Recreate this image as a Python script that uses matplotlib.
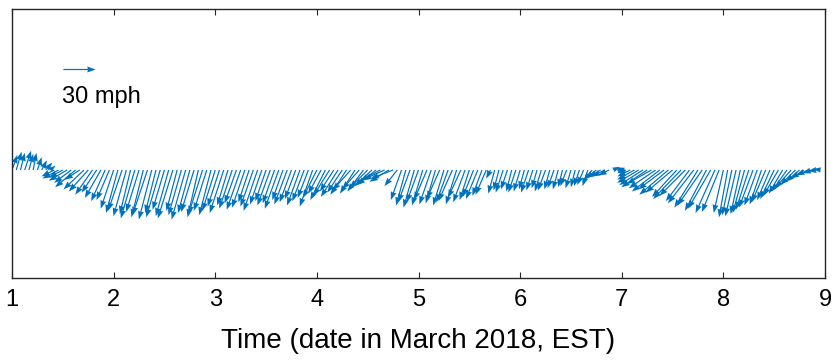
import numpy as np
import matplotlib
matplotlib.use("Agg")
import matplotlib.pyplot as plt

plt.rcParams['font.family'] = ['Liberation Sans', 'DejaVu Sans']

# Hourly wind vectors, 1-9 March 2018 (mph); east and north components
east = [
    5, 5, 4, 6, 4, 3, 4, 5, 6, 5, -12, -15, -13, -17, -16, -19, -14, -19, -18, -16, -14, -15, -13, -12,
    -12, -11, -13, -12, -10, -13, -12, -11, -14, -12, -10, -13, -11, -12, -14, -10, -12, -13, -11, -12, -10, -13, -12, -11,
    -12, -11, -13, -10, -12, -11, -13, -12, -10, -12, -13, -11, -10, -12, -11, -13, -10, -12, -11, -10, -12, -11, -10, -12,
    -13, -12, -14, -15, -13, -16, -14, -15, -17, -14, -16, -15, -17, -16, -18, -19, -20, -18, -21, -12, -10, -9, -11, -10,
    -11, -10, -12, -11, -9, -12, -10, -11, -13, -10, -12, -11, -9, -10, -11, -9, -10, -4, -6, -5, -7, -6, -5, -7,
    -6, -5, -7, -6, -5, -6, -7, -5, -6, -5, -4, -6, -5, -4, -5, -6, -5, -8, -10, -11, -12, -10, 6, 7,
    -5, -8, -12, -16, -20, -22, -24, -23, -25, -26, -24, -27, -25, -23, -26, -24, -22, -24, -22, -23, -20, -21, -18, -16,
    -9, -8, -9, -10, -9, -11, -12, -13, -12, -11, -13, -12, -13, -14, -13, -14, -15, -14, -13, -12, -11, -9, -8, -7,
]
north = [
    14, 17, 16, 18, 15, 16, 12, 9, 7, 4, -6, -8, -7, -10, -12, -16, -9, -18, -20, -23, -21, -26, -29, -28,
    -36, -40, -38, -43, -41, -45, -39, -44, -42, -46, -40, -44, -37, -43, -45, -38, -42, -46, -40, -39, -44, -41, -38, -42,
    -38, -34, -40, -33, -36, -31, -37, -35, -30, -34, -38, -32, -29, -33, -31, -36, -28, -32, -30, -27, -33, -29, -26, -34,
    -26, -22, -28, -24, -20, -25, -21, -23, -19, -22, -18, -20, -17, -15, -14, -10, -9, -11, -8, -15, -28, -33, -30, -35,
    -30, -33, -28, -32, -31, -27, -33, -30, -29, -32, -26, -30, -28, -25, -27, -24, -23, -8, -22, -19, -21, -18, -20, -21,
    -20, -18, -21, -19, -17, -20, -19, -18, -17, -18, -16, -15, -17, -16, -15, -14, -15, -10, -8, -7, -6, -5, 3, 2,
    0, -3, -6, -9, -12, -14, -16, -13, -17, -20, -18, -23, -21, -25, -27, -24, -29, -31, -35, -33, -38, -36, -40, -39,
    -40, -44, -42, -43, -41, -40, -37, -35, -33, -32, -30, -28, -27, -24, -22, -20, -17, -14, -11, -8, -5, -3, -1, 1,
]
key_speed = 30
xticks = [1, 2, 3, 4, 5, 6, 7, 8, 9]

t = 1 + np.arange(len(east)) / 24.0
blue = '#0072BD'

fig = plt.figure(figsize=(8.38, 3.6), dpi=100)
ax = fig.add_axes([12 / 838, 1 - 278 / 360, 813 / 838, 269 / 360])

q = ax.quiver(t, np.zeros_like(t), east, north, color=blue,
              units='dots', width=1.2, headwidth=5, headlength=7, headaxislength=6.5,
              scale_units='dots', scale=0.93)
ax.quiverkey(q, 79 / 838, 1 - 69 / 360, key_speed, ' ', coordinates='figure',
             labelpos='N', color=blue)
fig.text(62 / 838, 1 - 97 / 360, '%d mph' % key_speed, fontsize=17, va='center', ha='left')

ax.set_xlim(1, 9)
ax.set_ylim(-0.4015, 0.5985)
ax.set_xticks(xticks)
ax.set_yticks([])
ax.tick_params(axis='x', direction='in', length=4.5, top=True, labelsize=17, pad=8, color='#262626')
for s in ax.spines.values():
    s.set_color('#262626')
    s.set_linewidth(1.0)
ax.set_xlabel('Time (date in March 2018, EST)', fontsize=20, labelpad=12)

fig.savefig('out.png', dpi=100)
